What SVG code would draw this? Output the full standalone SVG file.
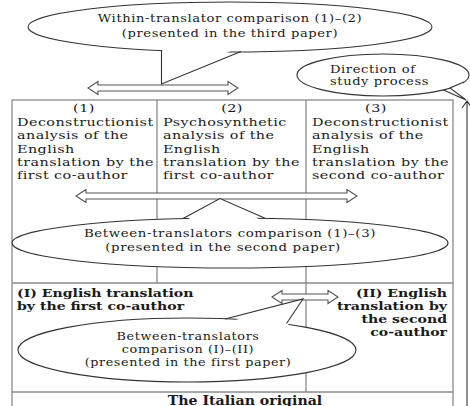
<svg xmlns="http://www.w3.org/2000/svg" width="470" height="406" viewBox="0 0 470 406">
<style>
.bx{fill:none;stroke:#8a8a8a;stroke-width:1.3}
.ln{fill:none;stroke:#8a8a8a;stroke-width:1.3}
.ar{fill:#fff;stroke:#555;stroke-width:1.1;stroke-linejoin:miter}
.el{fill:#fff;stroke:#333;stroke-width:1.1}
.tf{fill:#fff;stroke:none}
.tl{fill:none;stroke:#333;stroke-width:1.1}
text{font-family:"DejaVu Serif","Liberation Serif",serif;fill:#1a1a1a}
.t{font-size:11.3px;letter-spacing:0.35px}
.c{font-size:11px;letter-spacing:0.5px}
.b{font-size:11px;font-weight:bold}
.bo{font-size:12px;font-weight:bold}
.m{text-anchor:middle}
.e{text-anchor:end}
</style>
<rect width="470" height="406" fill="#fff"/>
<g id="frame">
<rect class="bx" x="12" y="100" width="441" height="330"/>
<line class="ln" x1="157" y1="100" x2="157" y2="283"/>
<line class="ln" x1="306" y1="100" x2="306" y2="392"/>
<line class="ln" x1="12" y1="283" x2="453" y2="283"/>
<line class="ln" x1="12" y1="392" x2="453" y2="392"/>
</g>
<g id="connectors">
<polygon class="ar" points="88,88 98,81.5 98,85 228,85 228,81.5 238,88 228,94.5 228,91 98,91 98,94.5"/>
<polygon class="ar" points="76,196 86,189.5 86,193 347,193 347,189.5 357,196 347,202.5 347,199 86,199 86,202.5"/>
<polygon class="ar" points="272,297 282,290.5 282,294 328,294 328,290.5 338,297 328,303.5 328,300 282,300 282,303.5"/>
<path class="tl" d="M467,406 V101 M462,108 L467,101 L472,108"/>
</g>
<g id="col1" transform="scale(1.27,1)">
<text class="t m" x="66.1" y="112">(1)</text>
<text class="t" x="13.4" y="126">Deconstructionist</text>
<text class="t" x="13.4" y="139.5">analysis of the</text>
<text class="t" x="13.4" y="153">English</text>
<text class="t" x="13.4" y="166">translation by the</text>
<text class="t" x="13.4" y="179.5">first co-author</text>
</g>
<g id="col2" transform="scale(1.27,1)">
<text class="t m" x="182.7" y="112">(2)</text>
<text class="t" x="128.3" y="126">Psychosynthetic</text>
<text class="t" x="128.3" y="139.5">analysis of the</text>
<text class="t" x="128.3" y="153">English</text>
<text class="t" x="128.3" y="166">translation by the</text>
<text class="t" x="128.3" y="179.5">first co-author</text>
</g>
<g id="col3" transform="scale(1.27,1)">
<text class="t m" x="296" y="112">(3)</text>
<text class="t" x="245.7" y="126">Deconstructionist</text>
<text class="t" x="245.7" y="139.5">analysis of the</text>
<text class="t" x="245.7" y="153">English</text>
<text class="t" x="245.7" y="166">translation by the</text>
<text class="t" x="245.7" y="179.5">second co-author</text>
</g>
<g id="trans1" transform="scale(1.28,1)">
<text class="b" x="13.3" y="297">(I) English translation</text>
<text class="b" x="13.3" y="310">by the first co-author</text>
</g>
<g id="trans2" transform="scale(1.28,1)">
<text class="b e" x="349.2" y="297">(II) English</text>
<text class="b e" x="349.2" y="310">translation by</text>
<text class="b e" x="349.2" y="323">the second</text>
<text class="b e" x="349.2" y="336">co-author</text>
</g>
<g id="original" transform="scale(1.18,1)">
<text class="bo m" x="207.6" y="405">The Italian original</text>
</g>
<g id="callout-within">
<ellipse class="el" cx="230" cy="27" rx="202" ry="25"/>
<polygon class="tf" points="162.5,46 161,84 241,46"/>
<polyline class="tl" points="161.5,50.5 161.5,84 241,51.6"/>
<g transform="scale(1.19,1)">
<text class="c m" x="193.3" y="22">Within-translator comparison (1)–(2)</text>
<text class="c m" x="193.3" y="37">(presented in the third paper)</text>
</g>
</g>
<g id="callout-direction">
<ellipse class="el" cx="383" cy="75" rx="86" ry="21"/>
<polygon class="tf" points="446,85 466,99.5 462,78"/>
<polyline class="tl" points="464,82 450,88 466,100 443.5,90"/>
<g transform="scale(1.19,1)">
<text class="c" x="277.3" y="73">Direction of</text>
<text class="c" x="277.3" y="85">study process</text>
</g>
</g>
<g id="callout-between13">
<ellipse class="el" cx="230" cy="243" rx="218" ry="25"/>
<polygon class="tf" points="184,222 220,198.5 264,222"/>
<polyline class="tl" points="183,218.6 220,198.5 265,218.3"/>
<g transform="scale(1.215,1)">
<text class="c m" x="189.3" y="237">Between-translators comparison (1)–(3)</text>
<text class="c m" x="183.5" y="251">(presented in the second paper)</text>
</g>
</g>
<g id="callout-betweenI">
<ellipse class="el" cx="187" cy="350" rx="169" ry="32"/>
<polygon class="tf" points="226,323 303,299 287,327"/>
<polyline class="tl" points="225,319 303,299 286.5,323.5"/>
<g transform="scale(1.165,1)">
<text class="c m" x="161.4" y="340">Between-translators</text>
<text class="c m" x="161.4" y="353">comparison (I)–(II)</text>
<text class="c m" x="161.4" y="366">(presented in the first paper)</text>
</g>
</g>
</svg>
